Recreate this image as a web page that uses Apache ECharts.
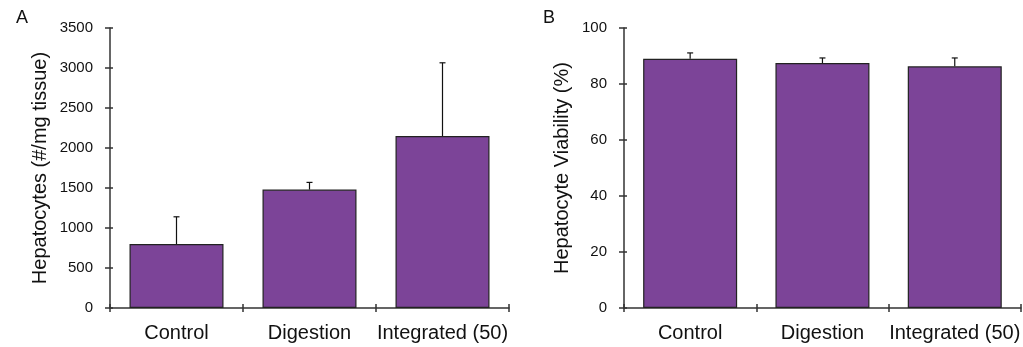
<!DOCTYPE html>
<html><head><meta charset="utf-8">
<script src="https://cdn.jsdelivr.net/npm/echarts@6/dist/echarts.min.js"></script>
<style>html,body{margin:0;padding:0;background:#fff}#c{width:1023px;height:347px}</style>
</head><body><div id="c"></div>
<script>
const categories = ['Control', 'Digestion', 'Integrated (50)'];
const countMeans = [800, 1480, 2150];
const countErrors = [340, 90, 915];
const viabilityMeans = [89.0, 87.5, 86.3];
const viabilityErrors = [2.1, 1.8, 3.0];
const countTicks = { min: 0, max: 3500, interval: 500 };
const viabilityTicks = { min: 0, max: 100, interval: 20 };

const font = 'Liberation Sans, Arial, sans-serif';
const barColor = '#7C4498';
const axisCol = '#333';

function errSeries(xi, yi, means, errs) {
  return {
    type: 'custom', xAxisIndex: xi, yAxisIndex: yi, z: 5,
    data: means.map((m, i) => [i, m, m + errs[i]]),
    renderItem: function (params, api) {
      const b = api.coord([api.value(0), api.value(1)]);
      const t = api.coord([api.value(0), api.value(2)]);
      const hw = 3;
      const st = { stroke: '#111', lineWidth: 1.2 };
      return { type: 'group', children: [
        { type: 'line', shape: { x1: b[0], y1: b[1], x2: t[0], y2: t[1] }, style: st },
        { type: 'line', shape: { x1: t[0] - hw, y1: t[1], x2: t[0] + hw, y2: t[1] }, style: st }
      ]};
    }
  };
}

function xAx(gi, inside, labels) {
  return {
    type: 'category', gridIndex: gi, data: categories, boundaryGap: true, position: 'bottom',
    axisLine: { show: !inside, lineStyle: { color: axisCol, width: 1.5 } },
    axisTick: { show: true, inside: inside, length: 4, lineStyle: { color: axisCol, width: 1.5 } },
    axisLabel: { show: labels, interval: 0, color: '#111', fontSize: 20, fontFamily: font, margin: 15 },
    splitLine: { show: false }
  };
}
function yAx(gi, ticks, name, inside, gap) {
  return Object.assign({
    type: 'value', gridIndex: gi, position: 'left',
    name: inside ? '' : name, nameLocation: 'middle', nameGap: gap,
    nameTextStyle: { color: '#111', fontSize: 20, fontFamily: font },
    axisLine: { show: !inside, lineStyle: { color: axisCol, width: 1.5 } },
    axisTick: { show: true, inside: inside, length: inside ? 3 : 5, lineStyle: { color: axisCol, width: 1.5 } },
    axisLabel: { show: !inside, color: '#111', fontSize: 15, fontFamily: font, margin: 17,
      formatter: function (v) { return String(v); } },
    splitLine: { show: false }
  }, ticks);
}

const chart = echarts.init(document.getElementById('c'), null, { renderer: 'canvas' });
chart.setOption({
  animation: false,
  backgroundColor: '#fff',
  title: [
    { text: 'A', left: 11, top: 4, textStyle: { fontSize: 18, fontWeight: 'normal', color: '#111', fontFamily: font } },
    { text: 'B', left: 538, top: 4, textStyle: { fontSize: 18, fontWeight: 'normal', color: '#111', fontFamily: font } }
  ],
  grid: [
    { left: 110, width: 399, top: 28, bottom: 39 },
    { left: 624, width: 399, top: 28, bottom: 39 }
  ],
  xAxis: [xAx(0, false, true), xAx(1, false, true), xAx(0, true, false), xAx(1, true, false)],
  yAxis: [
    yAx(0, countTicks, 'Hepatocytes (#/mg tissue)', false, 60),
    yAx(1, viabilityTicks, 'Hepatocyte Viability (%)', false, 52),
    yAx(0, countTicks, '', true, 0),
    yAx(1, viabilityTicks, '', true, 0)
  ],
  series: [
    { type: 'bar', xAxisIndex: 0, yAxisIndex: 0, data: countMeans, barWidth: 94,
      itemStyle: { color: barColor, borderColor: '#222', borderWidth: 1.2 } },
    { type: 'bar', xAxisIndex: 1, yAxisIndex: 1, data: viabilityMeans, barWidth: 94,
      itemStyle: { color: barColor, borderColor: '#222', borderWidth: 1.2 } },
    errSeries(0, 0, countMeans, countErrors),
    errSeries(1, 1, viabilityMeans, viabilityErrors)
  ]
});
</script></body></html>
